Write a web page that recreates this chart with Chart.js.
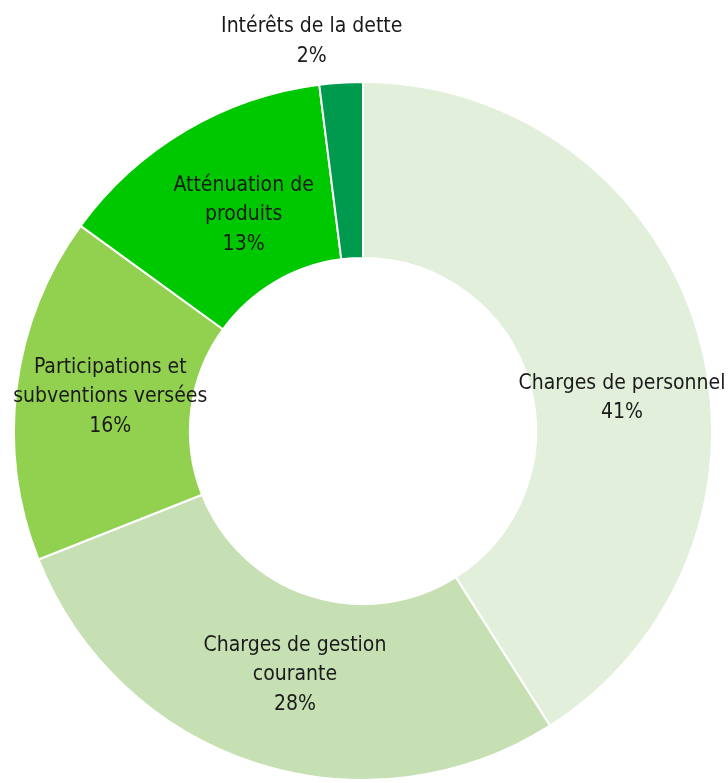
<!DOCTYPE html>
<html lang="fr">
<head>
<meta charset="UTF-8">
<title>Dépenses de fonctionnement</title>
<script src="https://cdn.jsdelivr.net/npm/chart.js"></script>
<style>
  html, body { margin: 0; padding: 0; background: #ffffff; }
  #wrap { width: 728px; height: 783px; }
</style>
</head>
<body>
<div id="wrap"><canvas id="graphique" width="728" height="783"></canvas></div>
<script>
// données
const categories = [
  'Charges de personnel',
  'Charges de gestion courante',
  'Participations et subventions versées',
  'Atténuation de produits',
  'Intérêts de la dette'
];
const valeurs = [41, 28, 16, 13, 2];
const lignesEtiquettes = [
  ['Charges de personnel'],
  ['Charges de gestion', 'courante'],
  ['Participations et', 'subventions versées'],
  ['Atténuation de', 'produits'],
  ['Intérêts de la dette']
];

const couleurs = ['#E2EFDA', '#C6E0B4', '#92D050', '#00C800', '#009A4E'];
const police = "'DejaVu Sans Condensed', 'Liberation Sans', sans-serif";

// décalages des étiquettes (angle en degrés, rayon en px) par rapport au milieu de l'anneau
const ajustEtiquettes = [
  { da: 9, dr: 0 },
  { da: -2.4, dr: -8 },
  { da: 0.5, dr: -6 },
  { da: 1.7, dr: -14 },
  { da: -3.9, dr: 132 }
];

const pluginEtiquettes = {
  id: 'etiquettes',
  afterDatasetsDraw(chart) {
    const ctx = chart.ctx;
    const meta = chart.getDatasetMeta(0);
    ctx.save();
    ctx.fillStyle = '#1a1a1a';
    ctx.font = '21px ' + police;
    ctx.textAlign = 'center';
    ctx.textBaseline = 'middle';
    meta.data.forEach((arc, i) => {
      const p = arc.getProps(['x', 'y', 'startAngle', 'endAngle', 'innerRadius', 'outerRadius'], true);
      const adj = ajustEtiquettes[i];
      const angle = (p.startAngle + p.endAngle) / 2 + adj.da * Math.PI / 180;
      const rayon = (p.innerRadius + p.outerRadius) / 2 + adj.dr;
      const cx = p.x + Math.cos(angle) * rayon;
      const cy = p.y + Math.sin(angle) * rayon;
      const lignes = lignesEtiquettes[i].concat([valeurs[i] + '%']);
      const hauteur = 29.5;
      lignes.forEach((t, k) => {
        ctx.fillText(t, cx, cy + (k - (lignes.length - 1) / 2) * hauteur);
      });
    });
    ctx.restore();
  }
};

new Chart(document.getElementById('graphique').getContext('2d'), {
  type: 'doughnut',
  data: {
    labels: categories,
    datasets: [{
      data: valeurs,
      backgroundColor: couleurs,
      borderColor: '#ffffff',
      borderWidth: 2
    }]
  },
  options: {
    responsive: false,
    animation: false,
    cutout: '49.6%',
    layout: { padding: { left: 13, right: 15, top: 81, bottom: 2 } },
    plugins: {
      legend: { display: false },
      tooltip: { enabled: false }
    }
  },
  plugins: [pluginEtiquettes]
});
</script>
</body>
</html>
